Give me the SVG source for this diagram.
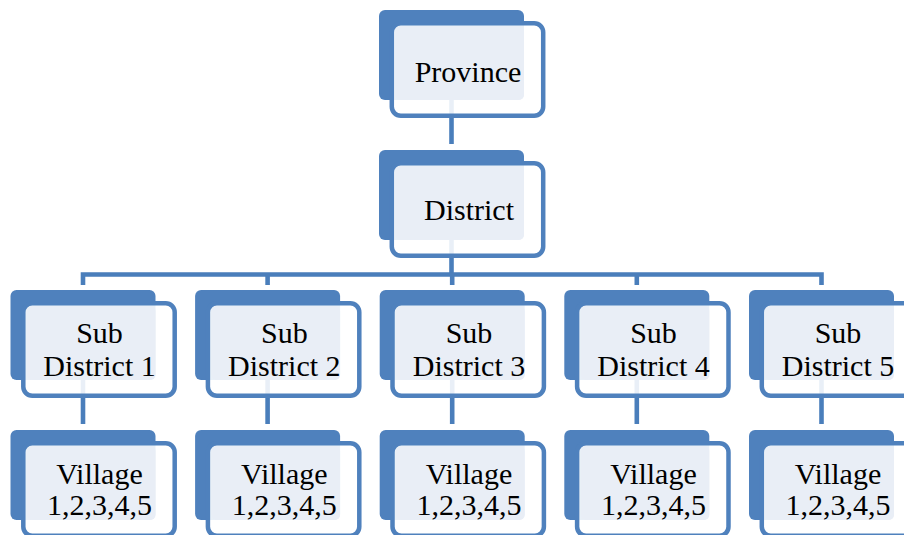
<svg xmlns="http://www.w3.org/2000/svg" width="904" height="535" viewBox="0 0 904 535">
<style>
.back{fill:#4F81BD}
.frame{fill:#FFFFFF;fill-opacity:0.88;stroke:#4F81BD;stroke-width:4.5}
.face{fill:#E9EEF6}
.conn{fill:none;stroke:#4A7EBB;stroke-width:4.6}
text{font-family:"Liberation Serif","Times New Roman",serif;font-size:30px;fill:#000;text-anchor:middle}
</style>
<defs>
<g id="node">
<rect class="back" x="-72.5" y="0" width="145" height="90" rx="6"/>
<rect class="frame" x="-59.7" y="13.2" width="151.4" height="92.6" rx="9"/>
<rect class="face" x="-56" y="16" width="128.5" height="74" rx="5"/>
</g>
</defs>
<g id="connectors">
<line class="conn" x1="451.5" y1="96" x2="451.5" y2="144"/>
<line class="conn" x1="451.5" y1="236" x2="451.5" y2="274"/>
<path class="conn" d="M83,285 V274.5 H821.5 V285"/>
<line class="conn" x1="267.6" y1="274.5" x2="267.6" y2="285"/>
<line class="conn" x1="452.2" y1="274.5" x2="452.2" y2="285"/>
<line class="conn" x1="636.8" y1="274.5" x2="636.8" y2="285"/>
<line class="conn" x1="83" y1="376" x2="83" y2="424"/>
<line class="conn" x1="267.6" y1="376" x2="267.6" y2="424"/>
<line class="conn" x1="452.2" y1="376" x2="452.2" y2="424"/>
<line class="conn" x1="636.8" y1="376" x2="636.8" y2="424"/>
<line class="conn" x1="821.5" y1="376" x2="821.5" y2="424"/>
</g>
<g id="province">
<use href="#node" x="451.5" y="10"/>
<text x="468" y="82">Province</text>
</g>
<g id="district">
<use href="#node" x="451.5" y="150"/>
<text x="469" y="220">District</text>
</g>
<g id="sub1">
<use href="#node" x="83" y="290"/>
<text x="99.5" y="343.3">Sub</text>
<text x="99.5" y="375.7">District 1</text>
</g>
<g id="sub2">
<use href="#node" x="267.6" y="290"/>
<text x="284.3" y="343.3">Sub</text>
<text x="284.3" y="375.7">District 2</text>
</g>
<g id="sub3">
<use href="#node" x="452.2" y="290"/>
<text x="469" y="343.3">Sub</text>
<text x="469" y="375.7">District 3</text>
</g>
<g id="sub4">
<use href="#node" x="636.8" y="290"/>
<text x="653.5" y="343.3">Sub</text>
<text x="653.5" y="375.7">District 4</text>
</g>
<g id="sub5">
<use href="#node" x="821.5" y="290"/>
<text x="838" y="343.3">Sub</text>
<text x="838" y="375.7">District 5</text>
</g>
<g id="village1">
<use href="#node" x="83" y="430"/>
<text x="99.5" y="484.3">Village</text>
<text x="99.5" y="515">1,2,3,4,5</text>
</g>
<g id="village2">
<use href="#node" x="267.6" y="430"/>
<text x="284.3" y="484.3">Village</text>
<text x="284.3" y="515">1,2,3,4,5</text>
</g>
<g id="village3">
<use href="#node" x="452.2" y="430"/>
<text x="469" y="484.3">Village</text>
<text x="469" y="515">1,2,3,4,5</text>
</g>
<g id="village4">
<use href="#node" x="636.8" y="430"/>
<text x="653.5" y="484.3">Village</text>
<text x="653.5" y="515">1,2,3,4,5</text>
</g>
<g id="village5">
<use href="#node" x="821.5" y="430"/>
<text x="838" y="484.3">Village</text>
<text x="838" y="515">1,2,3,4,5</text>
</g>
</svg>
